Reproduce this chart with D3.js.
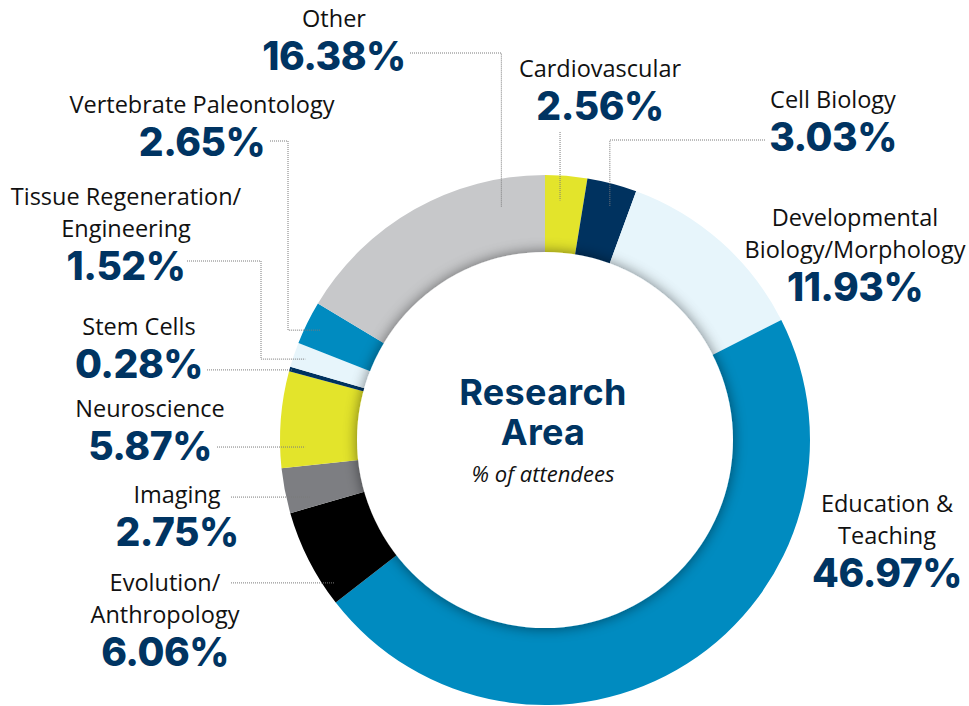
<!DOCTYPE html>
<html>
<head>
<meta charset="utf-8">
<script src="https://cdn.jsdelivr.net/npm/d3@7"></script>
<style>
  body { margin: 0; background: #fff; }
  svg { display: block; }
</style>
</head>
<body>
<div id="chart"></div>
<script>
// Research area data, clockwise from 12 o'clock
const categories = [
  "Cardiovascular", "Cell Biology", "Developmental\nBiology/Morphology", "Education &\nTeaching",
  "Evolution/\nAnthropology", "Imaging", "Neuroscience", "Stem Cells",
  "Tissue Regeneration/\nEngineering", "Vertebrate Paleontology", "Other"
];
const values = [2.56, 3.03, 11.93, 46.97, 6.06, 2.75, 5.87, 0.28, 1.52, 2.65, 16.38];
const colors = ["#e3e42b", "#00325f", "#e7f5fb", "#008bc0", "#000000", "#7d7e82",
  "#e3e42b", "#00325f", "#e7f5fb", "#008bc0", "#c7c8ca"];

// label placement (x centre, first baseline) and leader line setup
// frac = where along the slice the leader hits, lx/ly = leader start, ex = elbow x
const labelLayout = [
  {x: 600, y: 77,  leader: {type: "v", lx: 559, ly: 132, frac: 0.39, r: 240}},
  {x: 833, y: 108, leader: {type: "hv", lx: 765, ly: 140, frac: 0.58, r: 242}},
  {x: 855, y: 226, leader: null},
  {x: 887, y: 512, leader: null},
  {x: 165, y: 591, leader: {type: "h", lx: 231, frac: 0.165, r: 254}},
  {x: 177, y: 503, leader: {type: "h", lx: 231, frac: 0.24, r: 242}},
  {x: 150, y: 417, leader: {type: "h", lx: 217, frac: 0.21, r: 240}},
  {x: 139, y: 335, leader: {type: "h", lx: 207, frac: 0.5, r: 262}},
  {x: 126, y: 205, leader: {type: "hvh", lx: 187, ly: 261, ex: 261, frac: 0.48, r: 253}},
  {x: 202, y: 113, leader: {type: "hvh", lx: 270, ly: 141, ex: 288, frac: 0.48, r: 250}},
  {x: 334, y: 27,  leader: {type: "hv", lx: 410, ly: 53, frac: 0.82, r: 237}}
];

const width = 969, height = 706;
const cx = 545, cy = 440;
const outerR = 265, innerR = 188;
const navy = "#003462";

const svg = d3.select("#chart").append("svg")
  .attr("width", width)
  .attr("height", height);

const defs = svg.append("defs");
const shadow = defs.append("filter")
  .attr("id", "innerShadow")
  .attr("x", "-20%").attr("y", "-20%")
  .attr("width", "140%").attr("height", "140%");
shadow.append("feGaussianBlur").attr("in", "SourceAlpha").attr("stdDeviation", 7).attr("result", "blur");
shadow.append("feFlood").attr("flood-color", "#000").attr("flood-opacity", 0.5);
shadow.append("feComposite").attr("in2", "blur").attr("operator", "in").attr("result", "sh");
const merge = shadow.append("feMerge");
merge.append("feMergeNode").attr("in", "sh");
merge.append("feMergeNode").attr("in", "SourceGraphic");

const data = categories.map((c, i) => ({name: c, value: values[i], color: colors[i], layout: labelLayout[i]}));

const pie = d3.pie()
  .sort(null)
  .value(d => d.value);

const arcs = pie(data);

const arc = d3.arc()
  .innerRadius(innerR - 20)
  .outerRadius(outerR);

const g = svg.append("g")
  .attr("transform", "translate(" + cx + "," + cy + ")");

g.selectAll(".slice")
  .data(arcs)
  .enter().append("path")
  .attr("class", "slice")
  .attr("d", arc)
  .attr("fill", d => d.data.color);

// white centre disc with soft shadow over the ring
g.append("circle")
  .attr("r", innerR)
  .attr("fill", "#fff")
  .attr("filter", "url(#innerShadow)");

// point on the ring at a given fraction of a slice
function ringPoint(a, frac, r) {
  const ang = a.startAngle + (a.endAngle - a.startAngle) * frac;
  return [cx + r * Math.sin(ang), cy - r * Math.cos(ang)];
}

// leader lines
arcs.forEach(function(a) {
  const L = a.data.layout.leader;
  if (!L) return;
  const e = ringPoint(a, L.frac, L.r);
  let pts;
  if (L.type === "h") pts = [[L.lx, e[1]], e];
  else if (L.type === "v") pts = [[e[0], L.ly], e];
  else if (L.type === "hv") pts = [[L.lx, L.ly], [e[0], L.ly], e];
  else pts = [[L.lx, L.ly], [L.ex, L.ly], [L.ex, e[1]], e];
  svg.append("path")
    .attr("d", d3.line()(pts))
    .attr("fill", "none")
    .attr("stroke", "#7a7a7a")
    .attr("stroke-width", 1)
    .attr("stroke-dasharray", "1,1");
});

// labels
arcs.forEach(function(a) {
  const lay = a.data.layout;
  const lines = a.data.name.split("\n");
  const t = svg.append("g");
  lines.forEach(function(line, i) {
    t.append("text")
      .attr("x", lay.x)
      .attr("y", lay.y + i * 32)
      .attr("text-anchor", "middle")
      .style("font-family", "'Open Sans', sans-serif")
      .style("font-size", "23.5px")
      .style("fill", "#111")
      .text(line);
  });
  t.append("text")
    .attr("x", lay.x)
    .attr("y", lay.y + (lines.length - 1) * 32 + 43)
    .attr("text-anchor", "middle")
    .style("font-family", "Inter, sans-serif")
    .style("font-weight", 800)
    .style("font-size", "39px")
    .style("letter-spacing", "-0.5px")
    .style("fill", navy)
    .text(a.data.value.toFixed(2) + "%");
});

// centre title
svg.append("text")
  .attr("x", cx - 2).attr("y", 405)
  .attr("text-anchor", "middle")
  .style("font-family", "Inter, sans-serif")
  .style("font-weight", 700)
  .style("font-size", "36px")
  .style("letter-spacing", "0.3px")
  .style("fill", navy)
  .text("Research");
svg.append("text")
  .attr("x", cx - 2).attr("y", 445)
  .attr("text-anchor", "middle")
  .style("font-family", "Inter, sans-serif")
  .style("font-weight", 700)
  .style("font-size", "36px")
  .style("letter-spacing", "0.3px")
  .style("fill", navy)
  .text("Area");
svg.append("text")
  .attr("x", cx - 2).attr("y", 482)
  .attr("text-anchor", "middle")
  .style("font-family", "'Open Sans', sans-serif")
  .style("font-style", "italic")
  .style("font-size", "22px")
  .style("fill", "#111")
  .text("% of attendees");
</script>
</body>
</html>
